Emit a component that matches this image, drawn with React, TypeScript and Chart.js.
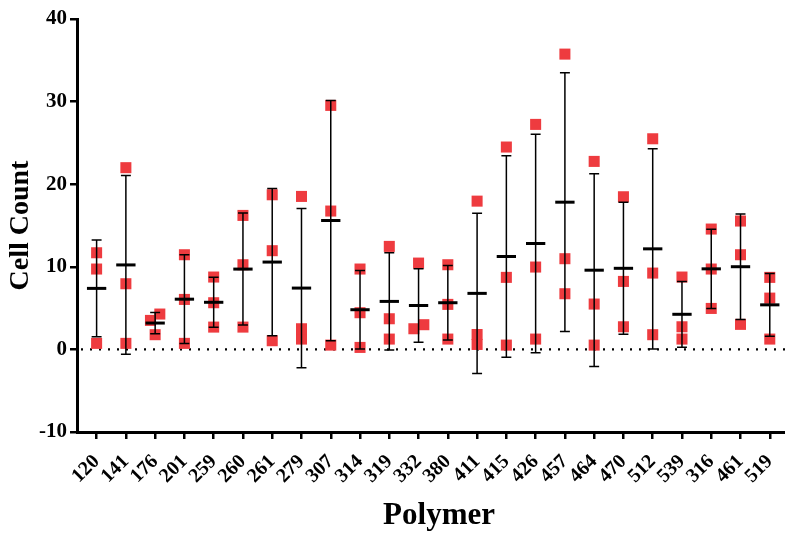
import React, { useEffect, useRef } from "react";
import { Chart, registerables } from "chart.js";

Chart.register(...registerables);

const CATEGORIES = [
  "120", "141", "176", "201", "259", "260", "261", "279", "307", "314", "319", "332",
  "380", "411", "415", "426", "457", "464", "470", "512", "539", "316", "461", "519",
];

const REP_1 = [11.7, 22.0, 3.51, 11.46, 8.76, 16.22, 18.72, 18.52, 29.54, 9.73, 12.47, 10.45,
  10.25, 17.95, 24.5, 27.24, 35.75, 22.76, 18.48, 25.5, 8.76, 14.57, 15.54, 8.72];
const REP_2 = [9.73, 7.95, 4.28, 6.05, 5.65, 10.25, 11.95, 2.5, 16.75, 4.44, 3.71, 2.5,
  5.45, 1.8, 8.72, 9.97, 10.98, 5.49, 8.23, 9.24, 2.74, 9.73, 11.46, 6.21];
const REP_3 = [0.73, 0.73, 1.78, 0.73, 2.7, 2.7, 1.05, 1.25, 0.52, 0.24, 1.25, 2.99,
  1.25, 0.6, 0.52, 1.25, 6.74, 0.52, 2.74, 1.78, 1.25, 4.96, 3.03, 1.25];

const Y_TICKS = [-10, 0, 10, 20, 30, 40];

const X_TITLE = "Polymer";
const Y_TITLE = "Cell Count";

// horizontal scatter offsets (GraphPad-style) for overlapping replicates
const JITTER_1 = CATEGORIES.map((c) => (c === "176" ? -0.16 : 0));
const JITTER_2 = CATEGORIES.map((c) => (c === "176" ? 0.16 : c === "332" ? -0.16 : 0));
const JITTER_3 = CATEGORIES.map((c) => (c === "332" ? 0.18 : 0));

const FONT = "'Liberation Serif', 'Times New Roman', serif";
const RED = "#EE3B3F";

function stats(i: number) {
  const v = [REP_1[i], REP_2[i], REP_3[i]];
  const m = v.reduce((a, b) => a + b, 0) / v.length;
  const sd = Math.sqrt(v.reduce((a, b) => a + (b - m) * (b - m), 0) / (v.length - 1));
  return { m, sd };
}

const errorPlugin = {
  id: "meanSd",
  beforeDatasetsDraw(chart: any) {
    const { ctx, chartArea, scales } = chart;
    const y0 = scales.y.getPixelForValue(0);
    ctx.save();
    ctx.strokeStyle = "#000";
    ctx.lineWidth = 2.2;
    ctx.setLineDash([2, 7]);
    ctx.beginPath();
    ctx.moveTo(chartArea.left + 4, y0);
    ctx.lineTo(chartArea.right, y0);
    ctx.stroke();
    ctx.restore();
  },
  afterDatasetsDraw(chart: any) {
    const { ctx, scales } = chart;
    const xs = scales.x;
    const ys = scales.y;
    ctx.save();
    ctx.strokeStyle = "#000";
    CATEGORIES.forEach((_, i) => {
      const { m, sd } = stats(i);
      const xc = xs.getPixelForValue(i);
      const yt = ys.getPixelForValue(m + sd);
      const yb = ys.getPixelForValue(m - sd);
      const ym = ys.getPixelForValue(m);
      const cap = xs.getPixelForValue(i + 0.17) - xc;
      const half = xs.getPixelForValue(i + 0.33) - xc;
      ctx.lineWidth = 1.5;
      ctx.beginPath();
      ctx.moveTo(xc, yt);
      ctx.lineTo(xc, yb);
      ctx.moveTo(xc - cap, yt);
      ctx.lineTo(xc + cap, yt);
      ctx.moveTo(xc - cap, yb);
      ctx.lineTo(xc + cap, yb);
      ctx.stroke();
      ctx.lineWidth = 3;
      ctx.beginPath();
      ctx.moveTo(xc - half, ym);
      ctx.lineTo(xc + half, ym);
      ctx.stroke();
    });
    ctx.restore();
  },
  afterDraw(chart: any) {
    const { ctx, scales } = chart;
    ctx.save();
    ctx.fillStyle = "#000";
    ctx.font = `bold 31px ${FONT}`;
    ctx.textAlign = "center";
    ctx.textBaseline = "alphabetic";
    ctx.fillText(X_TITLE, scales.x.getPixelForValue(11.7), 524);
    ctx.restore();
  },
};

export default function App() {
  const ref = useRef<HTMLCanvasElement>(null);

  useEffect(() => {
    if (!ref.current) return;
    const mk = (vals: number[], jit: number[]) =>
      vals.map((y, i) => ({ x: i + jit[i], y }));
    const ds = (data: any[]) => ({
      data,
      pointStyle: "rect",
      pointRadius: 7.8,
      pointHoverRadius: 7.8,
      pointBackgroundColor: RED,
      pointBorderWidth: 0,
      borderWidth: 0,
      showLine: false,
    });
    const chart = new Chart(ref.current, {
      type: "scatter",
      data: {
        datasets: [
          ds(mk(REP_1, JITTER_1)),
          ds(mk(REP_2, JITTER_2)),
          ds(mk(REP_3, JITTER_3)),
        ],
      },
      plugins: [errorPlugin],
      options: {
        animation: false,
        responsive: false,
        events: [],
        layout: { autoPadding: false, padding: { top: 19, right: 0, bottom: 0, left: 0 } },
        plugins: { legend: { display: false }, tooltip: { enabled: false } },
        scales: {
          x: {
            type: "linear",
            min: -0.67,
            max: 23.52,
            afterBuildTicks: (scale: any) => {
              scale.ticks = CATEGORIES.map((_, i) => ({ value: i }));
            },
            afterFit: (scale: any) => {
              scale.height = 101;
              scale.paddingRight = 0;
            },
            ticks: {
              autoSkip: false,
              maxRotation: 45,
              minRotation: 45,
              padding: 11,
              color: "#000",
              font: { family: FONT, size: 20, weight: "bold" },
              callback: (v: any) => CATEGORIES[Math.round(Number(v))] ?? "",
            },
            grid: {
              display: true,
              drawOnChartArea: false,
              drawTicks: true,
              tickLength: 7,
              lineWidth: 2.5,
              color: "#000",
            },
            border: { display: true, width: 3, color: "#000" },
            title: { display: false },
          },
          y: {
            min: -10,
            max: 40,
            afterBuildTicks: (scale: any) => {
              scale.ticks = Y_TICKS.map((v) => ({ value: v }));
            },
            afterFit: (scale: any) => {
              scale.width = 77;
            },
            ticks: {
              padding: 3,
              color: "#000",
              font: { family: FONT, size: 21, weight: "bold" },
            },
            grid: {
              display: true,
              drawOnChartArea: false,
              drawTicks: true,
              tickLength: 7,
              lineWidth: 2.5,
              color: "#000",
            },
            border: { display: true, width: 3, color: "#000" },
            title: {
              display: true,
              text: Y_TITLE,
              color: "#000",
              font: { family: FONT, size: 28, weight: "bold" },
              padding: { top: 4, bottom: 0 },
            },
          },
        },
      },
    } as any);
    return () => chart.destroy();
  }, []);

  return (
    <div style={{ position: "fixed", left: 0, top: 0, width: 785, height: 533, background: "#fff" }}>
      <canvas ref={ref} width={785} height={533} />
    </div>
  );
}
